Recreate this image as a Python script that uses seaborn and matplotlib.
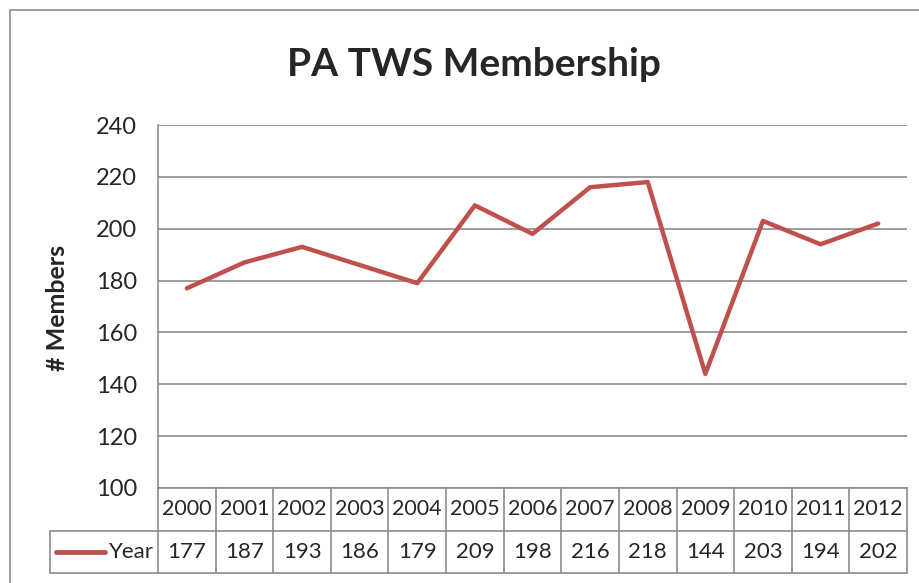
import matplotlib
matplotlib.use("Agg")
import matplotlib.pyplot as plt
import seaborn as sns
import pandas as pd
import numpy as np
from matplotlib.patches import Rectangle

years = ["2000", "2001", "2002", "2003", "2004", "2005", "2006",
         "2007", "2008", "2009", "2010", "2011", "2012"]
members = [177, 187, 193, 186, 179, 209, 198, 216, 218, 144, 203, 194, 202]
series_name = "Year"
title = "PA TWS Membership"
y_label = "# Members"
y_ticks = [100, 120, 140, 160, 180, 200, 220, 240]

sns.set_theme(style="white")
plt.rcParams['font.family'] = ['Lato', 'DejaVu Sans']

W, H = 920, 583
fig = plt.figure(figsize=(W / 100, H / 100), dpi=100)
fig.patch.set_facecolor("white")

def fx(px):
    return px / W

def fy(py):
    return 1 - py / H

# outer chart frame
fig.patches.append(Rectangle((fx(10), fy(640)), fx(960), 630 / H,
                             transform=fig.transFigure, fill=False,
                             edgecolor="#8c8c8c", linewidth=1.2))

L, R, T, B = 158, 907, 125, 488
ax = fig.add_axes([fx(L), fy(B), fx(R - L), (B - T) / H])

df = pd.DataFrame({"pos": np.arange(len(years)), "members": members,
                   "series": series_name})
line_color = "#C0504D"
sns.lineplot(data=df, x="pos", y="members", ax=ax, color=line_color,
             linewidth=3.2)

ax.set_xlim(-0.5, len(years) - 0.5)
ax.set_ylim(100, 240)
ax.set_yticks(y_ticks)
ax.set_yticklabels([str(v) for v in y_ticks], fontsize=17)
ax.tick_params(axis="y", length=0, pad=15)
ax.set_xticks([])
ax.set_xlabel("")
ax.set_ylabel("")
ax.grid(axis="y", color="#8c8c8c", linewidth=1.2)
ax.set_axisbelow(True)
for s in ["top", "right", "bottom"]:
    ax.spines[s].set_visible(False)
ax.spines["left"].set_color("#8c8c8c")
ax.spines["left"].set_linewidth(1.2)

fig.text(fx(474), fy(65), title, ha="center", va="center",
         fontsize=28, fontweight="bold")
fig.text(fx(58), fy(308), y_label, ha="center", va="center",
         rotation=90, fontsize=18, fontweight="bold")

# data table
TL, TB = 50, 573
unit = (R - L) / len(years)
extra = (L - TL) / unit
tax = fig.add_axes([fx(TL), fy(TB), fx(R - TL), (TB - B) / H])
tax.set_xlim(-0.5 - extra, len(years) - 0.5)
tax.set_ylim(0, 2)
tax.axis("off")
gc = "#8c8c8c"
gw = 1.2
x0 = -0.5
x1 = len(years) - 0.5
xl = -0.5 - extra
tax.plot([x0, x1], [2, 2], color=gc, lw=gw, clip_on=False)
tax.plot([xl, x1], [1, 1], color=gc, lw=gw, clip_on=False)
tax.plot([xl, x1], [0, 0], color=gc, lw=gw, clip_on=False)
tax.plot([xl, xl], [0, 1], color=gc, lw=gw, clip_on=False)
for i in range(len(years) + 1):
    tax.plot([x0 + i, x0 + i], [0, 2], color=gc, lw=gw, clip_on=False)
for i, (yr, v) in enumerate(zip(years, members)):
    tax.text(i, 1.5, yr, ha="center", va="center", fontsize=15.5)
    tax.text(i, 0.5, str(v), ha="center", va="center", fontsize=16)
# legend key
tax.plot([xl + 0.1, xl + 0.95], [0.5, 0.5], color=line_color, lw=3.5,
         solid_capstyle="round")
tax.text(-0.5 - 0.07, 0.5, series_name, ha="right", va="center",
         fontsize=16)

fig.savefig("out.png", dpi=100)
